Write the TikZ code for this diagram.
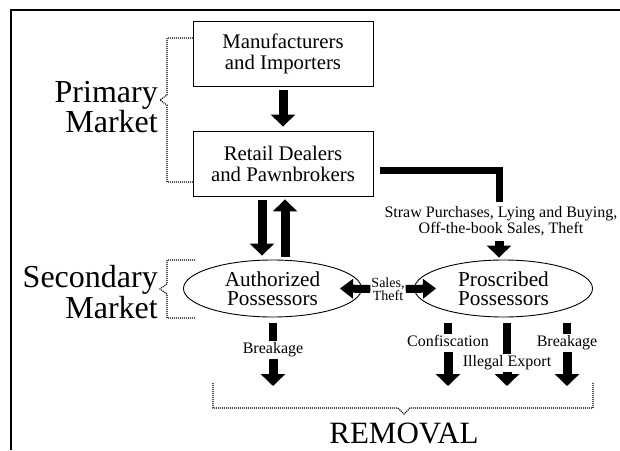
\documentclass[tikz,border=0pt]{standalone}
\usepackage{fontspec}
\setmainfont{Liberation Serif}
\usetikzlibrary{arrows.meta,shapes.geometric}

\tikzset{
  box/.style={draw, line width=0.9pt, minimum width=180pt, minimum height=65pt, align=center, font=\fontsize{20.8}{21}\selectfont},
  owner/.style={draw, ellipse, line width=0.9pt, inner sep=0pt, minimum width=178pt, minimum height=57pt, align=center, font=\fontsize{21.2}{19.5}\selectfont},
  market/.style={anchor=east, inner sep=0pt, align=right, font=\fontsize{32}{29}\selectfont},
  lbl/.style={inner sep=1pt, text height=11pt, text depth=4pt, font=\fontsize{16}{13.5}\selectfont},
  fat/.style={line width=9pt, -{Triangle[width=24pt,length=12pt]}},
  fatsmall/.style={line width=8pt, -{Triangle[width=19pt,length=13pt]}},
  stub/.style={line width=8.5pt},
  brace/.style={line width=1.2pt, dash pattern=on 1pt off 1pt}
}

\begin{document}
\begin{tikzpicture}[x=1pt, y=-1pt]
  \useasboundingbox (0,0) rectangle (620,450);
  \draw[line width=2pt] (11,450) -- (11,10) -- (620,10);

  % the two markets
  \node[box] (mfr) at (283, 53.5) {Manufacturers\\and Importers};
  \node[box] (retail) at (283, 163.5) {Retail Dealers\\and Pawnbrokers};
  \node[owner] (auth) at (272.5, 288.5) {Authorized\\Possessors};
  \node[owner] (proscr) at (503.5, 288.5) {Proscribed\\Possessors};

  \node[market] (primary) at (158, 107) {Primary\\Market};
  \node[market] (secondary) at (158, 292) {Secondary\\Market};
  \node[font=\fontsize{31}{31}\selectfont] (removal) at (404, 433) {REMOVAL};

  \draw[brace] (193,38) -- (167,38) -- (167,95) -- (160,100) -- (167,105) -- (167,182) -- (193,182);
  \draw[brace] (195,260) -- (167,260) -- (167,284) -- (160,289) -- (167,294) -- (167,318) -- (195,318);
  \draw[brace] (213,383) -- (213,408) -- (398,408) -- (404,414) -- (410,408) -- (593,408) -- (593,382);

  % labels on the flows
  \node[inner sep=1pt, align=center, font=\fontsize{16}{13.5}\selectfont] (straw) at (501, 221.5) {Straw Purchases, Lying and Buying,\\Off-the-book Sales, Theft};
  \node[inner sep=1pt, align=center, font=\fontsize{14}{13}\selectfont] (salestheft) at (388, 289) {Sales,\\Theft};
  \node[lbl] (brk1) at (273, 350) {Breakage};
  \node[lbl] (confisc) at (448, 343) {Confiscation};
  \node[lbl] (export) at (507, 363) {Illegal Export};
  \node[lbl] (brk2) at (567, 343) {Breakage};

  \coordinate (stubtop) at (0, 323);
  \coordinate (rtop) at (0, 386);

  % flows
  \draw[fat, shorten <=4pt, shorten >=4pt] (mfr) -- (retail);
  \draw[fat, shorten <=4pt, shorten >=4pt] ([xshift=-21pt]retail.south) -- ([xshift=-10.5pt]auth.north);
  \draw[fat, shorten <=3pt, shorten >=3pt] ([xshift=12.5pt]auth.north) -- ([xshift=2pt]retail.south);
  \draw[line width=7pt, shorten >=4pt] ([xshift=7pt,yshift=-6.5pt]retail.east) -| ([xshift=-2pt]straw.north);
  \draw[fat, shorten <=4pt, shorten >=2pt] ([xshift=-2pt]straw.south) -- ([xshift=-2pt]straw.south |- proscr.north);
  \draw[fatsmall] (salestheft.west) -- ([xshift=-22pt]auth.east);
  \draw[fatsmall] (salestheft.east) -- ([xshift=22pt]proscr.west);

  \draw[stub] (brk1.north |- stubtop) -- (brk1.north);
  \draw[fat] (brk1.south) -- (brk1.south |- rtop);
  \draw[stub] (confisc.north |- stubtop) -- (confisc.north);
  \draw[fat] (confisc.south) -- (confisc.south |- rtop);
  \draw[stub] (export.north |- stubtop) -- (export.north);
  \draw[fat] (export.south) -- (export.south |- rtop);
  \draw[stub] (brk2.north |- stubtop) -- (brk2.north);
  \draw[fat] (brk2.south) -- (brk2.south |- rtop);
\end{tikzpicture}
\end{document}
